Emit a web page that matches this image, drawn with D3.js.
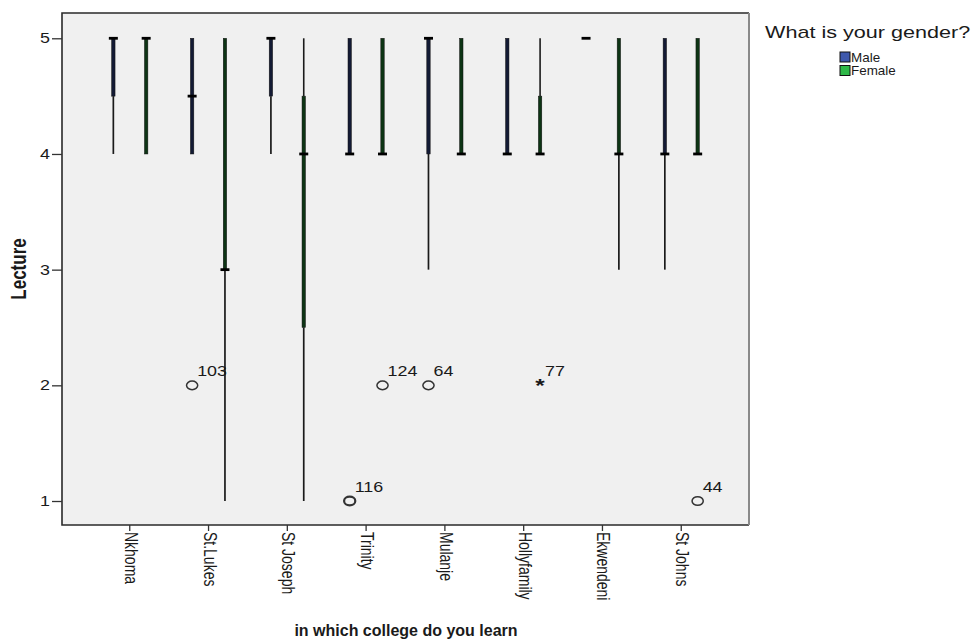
<!DOCTYPE html>
<html><head><meta charset="utf-8">
<script src="https://cdn.jsdelivr.net/npm/d3@7"></script>
<style>
body{margin:0;background:#fff}
svg{display:block}
text{font-family:"Liberation Sans",Arial,sans-serif;fill:#1a1a1a}
</style>
</head><body><svg id="c" width="973" height="641"></svg>
<script>
const colleges = ["Nkhoma","St.Lukes","St Joseph","Trinity","Mulanje","Hollyfamily","Ekwendeni","St Johns"];
const genders = ["Male","Female"];
const maleQ1     = [4.5, 4,   4.5, 4, 4, 4, 5, 4];
const maleMedian = [5,   4.5, 5,   4, 5, 4, 5, 4];
const maleQ3     = [5,   5,   5,   5, 5, 5, 5, 5];
const maleLow    = [4,   4,   4,   4, 3, 4, 5, 3];
const maleHigh   = [5,   5,   5,   5, 5, 5, 5, 5];
const femaleQ1     = [4, 3, 2.5, 4, 4, 4,   4, 4];
const femaleMedian = [5, 3, 4,   4, 4, 4,   4, 4];
const femaleQ3     = [5, 5, 4.5, 5, 5, 4.5, 5, 5];
const femaleLow    = [4, 1, 1,   4, 4, 4,   3, 4];
const femaleHigh   = [5, 5, 5,   5, 5, 5,   5, 5];
const outlierCollege = ["St.Lukes","Trinity","Trinity","Mulanje","Hollyfamily","St Johns"];
const outlierGender  = ["Male","Male","Female","Male","Female","Female"];
const outlierValue   = [2, 1, 2, 2, 2, 1];
const outlierLabel   = ["103","116","124","64","77","44"];
const outlierKind    = ["o","o","o","o","*","o"];
const yTicks = [1, 2, 3, 4, 5];

const SX = 1.28; // horizontal stretch of the reference picture
const colors = {Male: "#3e58ac", Female: "#2eb848"};
const boxFill = {Male: d3.interpolateRgb("#3e58ac", "#000")(0.7), Female: d3.interpolateRgb("#2eb848", "#000")(0.72)};

const svg = d3.select("#c");
const L = 62, R = 749, T = 13, B = 525;

const x = d3.scaleBand().domain(colleges).range([L, R]).paddingInner(0).paddingOuter(0.36);
const xg = d3.scalePoint().domain(genders).range([0, x.bandwidth()]).padding(0.7);
const y = d3.scaleLinear().domain([0.7926, 5.2186]).range([B, T]);

// plot background
svg.append("rect").attr("x", L).attr("y", T).attr("width", R - L).attr("height", B - T)
  .attr("fill", "#f0f0f0").attr("stroke", "none");

// boxes
const series = {
  Male: {q1: maleQ1, med: maleMedian, q3: maleQ3, lo: maleLow, hi: maleHigh},
  Female: {q1: femaleQ1, med: femaleMedian, q3: femaleQ3, lo: femaleLow, hi: femaleHigh}
};
const boxes = [];
genders.forEach(g => colleges.forEach((c, i) => {
  const s = series[g];
  boxes.push({c, g, q1: s.q1[i], med: s.med[i], q3: s.q3[i], lo: s.lo[i], hi: s.hi[i]});
}));
const gBox = svg.append("g");
boxes.forEach(b => {
  const cx = x(b.c) + xg(b.g);
  if (b.hi > b.q3) gBox.append("line").attr("x1", cx).attr("x2", cx).attr("y1", y(b.hi)).attr("y2", y(b.q3))
    .attr("stroke", "#1a1a1a").attr("stroke-width", 1.6);
  if (b.lo < b.q1) gBox.append("line").attr("x1", cx).attr("x2", cx).attr("y1", y(b.q1)).attr("y2", y(b.lo))
    .attr("stroke", "#1a1a1a").attr("stroke-width", 1.7);
  if (b.q3 > b.q1) gBox.append("rect").attr("x", cx - 1.7).attr("width", 3.4)
    .attr("y", y(b.q3)).attr("height", y(b.q1) - y(b.q3))
    .attr("fill", boxFill[b.g]).attr("stroke", "#111").attr("stroke-width", 0.5);
  gBox.append("line").attr("x1", cx - 4.5).attr("x2", cx + 4.5).attr("y1", y(b.med)).attr("y2", y(b.med))
    .attr("stroke", "#000").attr("stroke-width", 2.8);
});

// outliers
const gOut = svg.append("g");
outlierValue.forEach((v, i) => {
  const cx = x(outlierCollege[i]) + xg(outlierGender[i]);
  const cy = y(v);
  if (outlierKind[i] === "o") {
    gOut.append("ellipse").attr("cx", cx).attr("cy", cy).attr("rx", 5.6).attr("ry", 4.3)
      .attr("fill", "none").attr("stroke", "#333").attr("stroke-width", outlierLabel[i] === "116" ? 2.2 : 1.5);
  } else {
    gOut.append("text").attr("transform", `translate(${cx},${cy + 7}) scale(${SX},1)`)
      .attr("text-anchor", "middle").attr("font-size", 19).attr("font-weight", "bold").text("*");
  }
  gOut.append("text").attr("transform", `translate(${cx + 5},${cy - 9.5}) scale(${SX},1)`)
    .attr("font-size", 14).text(outlierLabel[i]);
});

// plot border
svg.append("path").attr("d", `M${R},${T}H${L}V${B}H${R}`).attr("fill", "none").attr("stroke", "#2a2a2a").attr("stroke-width", 1.6);
svg.append("line").attr("x1", R).attr("x2", R).attr("y1", T).attr("y2", B).attr("stroke", "#8a8a8a").attr("stroke-width", 2);

// y axis
const yAxis = svg.append("g").attr("transform", `translate(${L},0)`)
  .call(d3.axisLeft(y).tickValues(yTicks).tickSize(10).tickFormat(d3.format("d")));
yAxis.select(".domain").remove();
yAxis.selectAll(".tick line").attr("stroke", "#333").attr("stroke-width", 1.3);
yAxis.selectAll(".tick text").attr("x", -12 / SX).attr("transform", `scale(${SX},1)`)
  .attr("font-size", 14).attr("font-family", null).attr("fill", "#1a1a1a");

// x axis
const xAxis = svg.append("g").attr("transform", `translate(0,${B})`)
  .call(d3.axisBottom(x).tickSize(6));
xAxis.select(".domain").remove();
xAxis.selectAll(".tick line").attr("stroke", "#333").attr("stroke-width", 1.3);
xAxis.selectAll(".tick text")
  .attr("transform", `scale(${SX},1) rotate(90)`)
  .attr("x", 7).attr("y", -1).attr("dy", "0.35em")
  .attr("text-anchor", "start").attr("font-size", 14).attr("font-family", null).attr("fill", "#1a1a1a");

// axis titles
svg.append("text").attr("transform", `translate(406,636)`)
  .attr("text-anchor", "middle").attr("font-size", 16).attr("font-weight", "bold").text("in which college do you learn");
svg.append("text").attr("transform", `translate(26,269) scale(${SX},1) rotate(-90)`)
  .attr("text-anchor", "middle").attr("font-size", 17).attr("font-weight", "bold").text("Lecture");

// legend
const lg = svg.append("g");
lg.append("text").attr("transform", `translate(765,38) scale(1.35,1)`).attr("font-size", 16).text("What is your gender?");
genders.forEach((g, i) => {
  const yy = 52 + i * 13.5;
  lg.append("rect").attr("x", 840).attr("y", yy).attr("width", 10).attr("height", 10)
    .attr("fill", colors[g]).attr("stroke", "#111").attr("stroke-width", 1);
  lg.append("text").attr("transform", `translate(851,${yy + 9.5}) scale(1.12,1)`).attr("font-size", 12).text(g);
});
</script></body></html>
